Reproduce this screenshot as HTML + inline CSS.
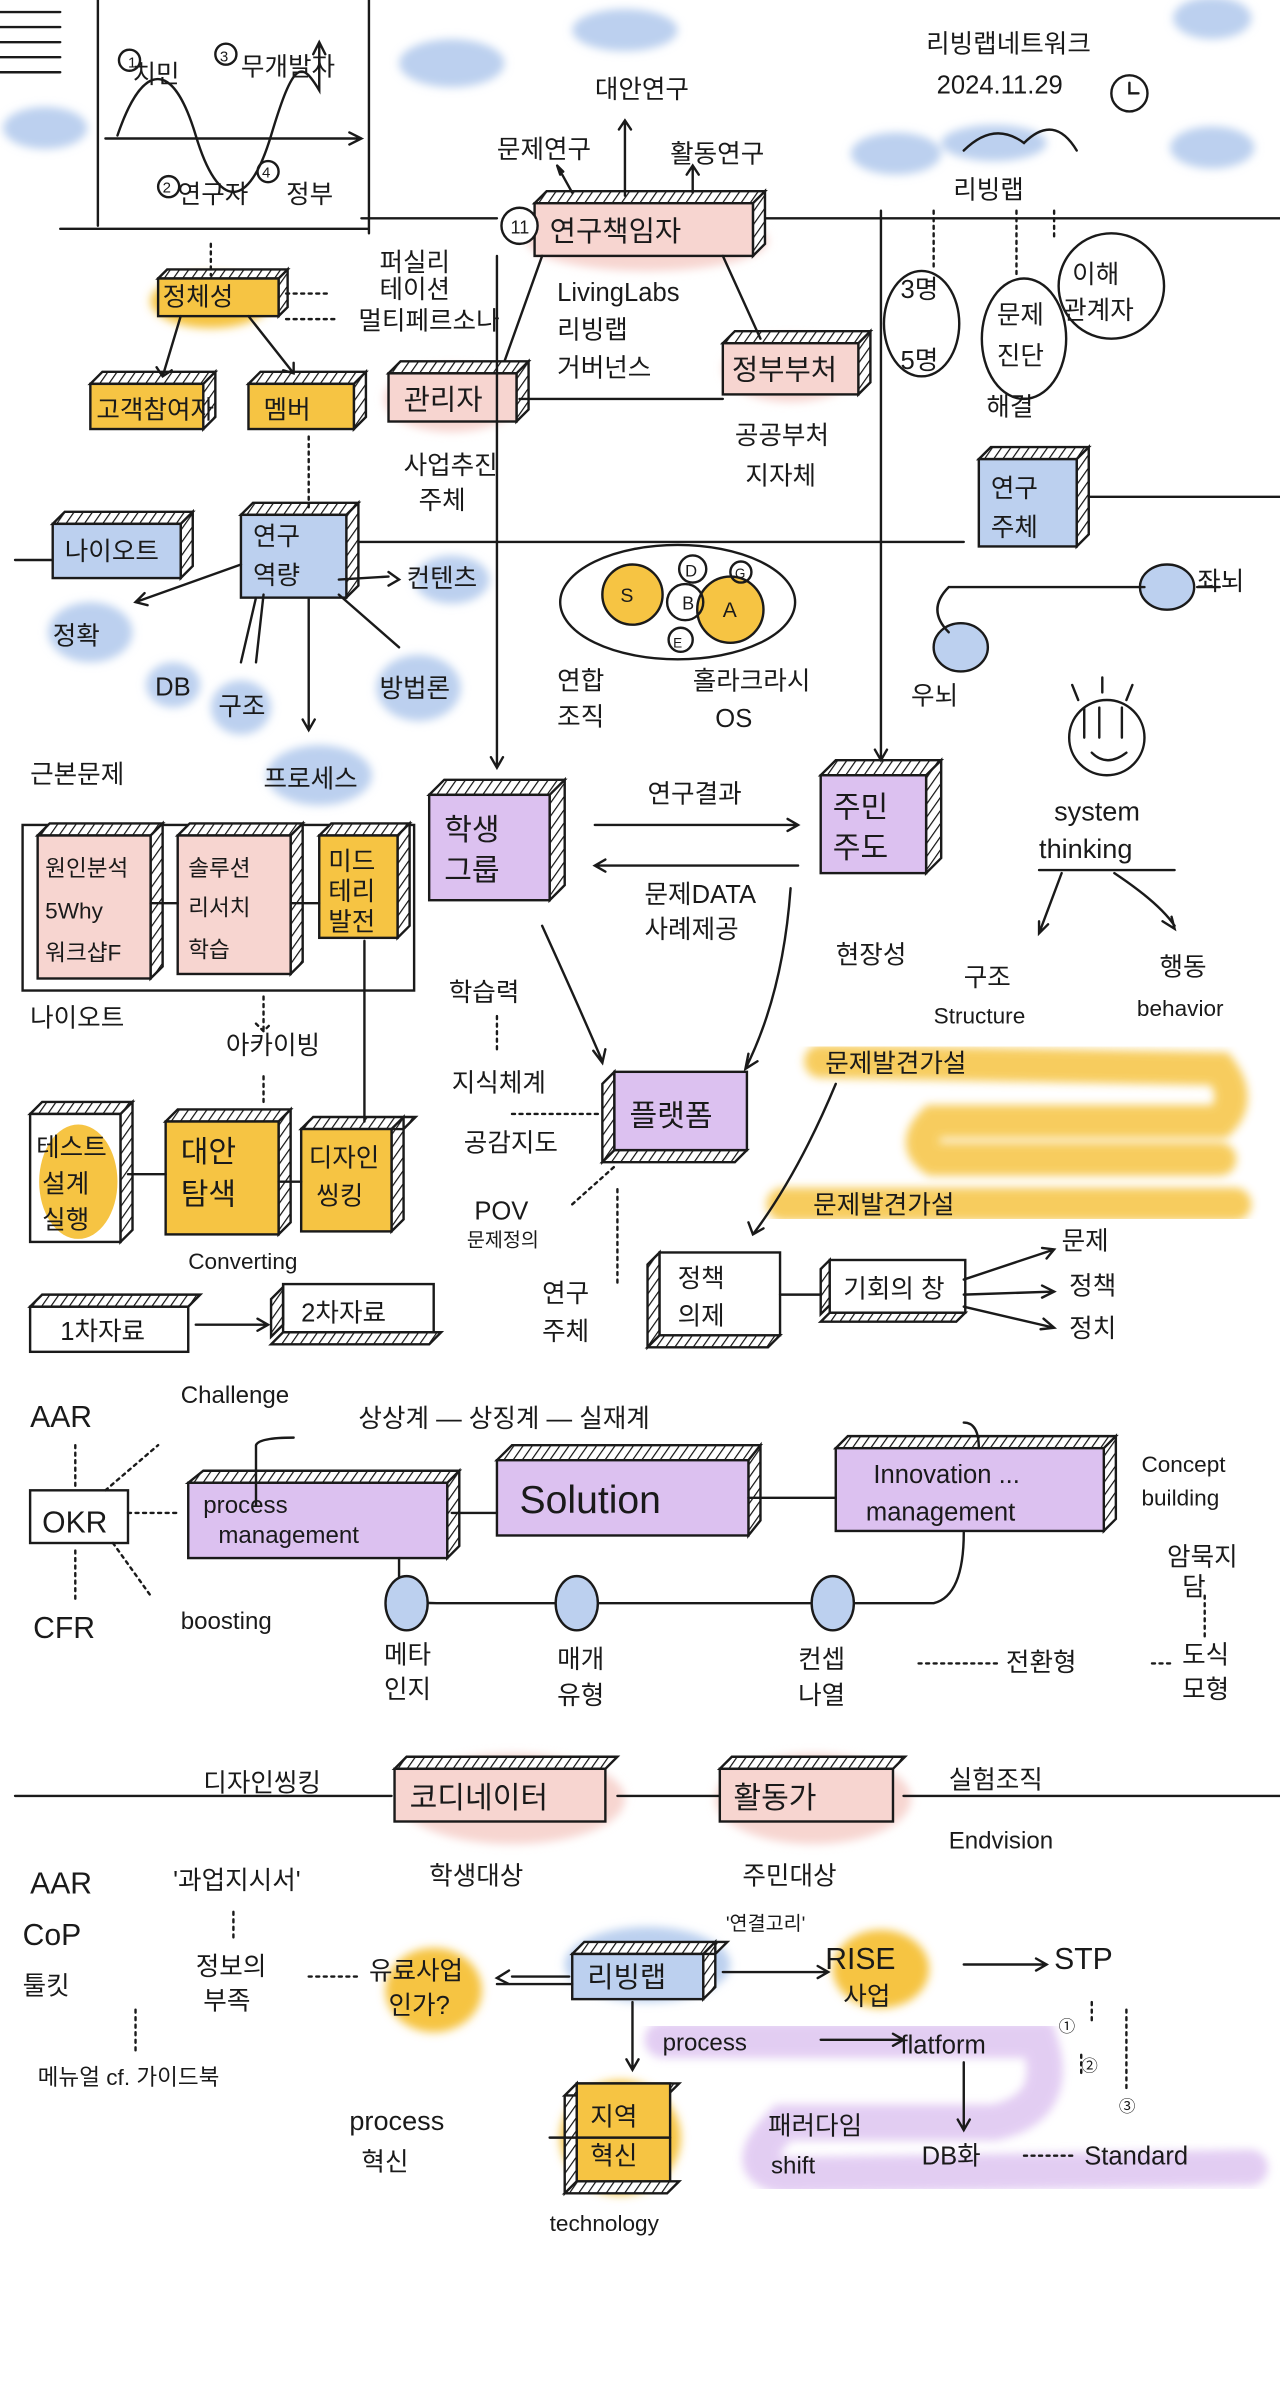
<!DOCTYPE html>
<html><head><meta charset="utf-8"><style>
html,body{margin:0;padding:0;background:#fff;width:1280px;height:2383px;overflow:hidden}
svg{display:block}
text{font-family:"Liberation Sans","Noto Sans CJK KR","NanumGothic",sans-serif;fill:#1a1a1a}
</style></head><body>
<svg width="1280" height="2383" viewBox="0 0 850 1583" preserveAspectRatio="none" xmlns="http://www.w3.org/2000/svg">
<defs>
<pattern id="h" width="5" height="5" patternUnits="userSpaceOnUse" patternTransform="rotate(35)">
<rect width="5" height="5" fill="#fff"/><line x1="0" y1="0" x2="0" y2="5" stroke="#111" stroke-width="1.6"/></pattern>
<filter id="b"><feGaussianBlur stdDeviation="3"/></filter>
</defs>
<g stroke="#1a1a1a" stroke-width="1.6" fill="none" stroke-linecap="round">
<g filter="url(#b)" stroke="none">
<ellipse cx="30" cy="85" rx="28" ry="14" fill="#bcd0ef"/>
<ellipse cx="300" cy="42" rx="35" ry="16" fill="#bcd0ef"/>
<ellipse cx="415" cy="20" rx="35" ry="14" fill="#bcd0ef"/>
<ellipse cx="595" cy="102" rx="30" ry="14" fill="#bcd0ef"/>
<ellipse cx="805" cy="12" rx="26" ry="14" fill="#bcd0ef"/>
<ellipse cx="805" cy="98" rx="28" ry="14" fill="#bcd0ef"/>
<ellipse cx="660" cy="95" rx="35" ry="12" fill="#bcd0ef"/>
<ellipse cx="140" cy="200" rx="40" ry="18" fill="#f6c443"/>
<ellipse cx="60" cy="420" rx="28" ry="20" fill="#bcd0ef"/>
<ellipse cx="115" cy="455" rx="18" ry="15" fill="#bcd0ef"/>
<ellipse cx="160" cy="470" rx="20" ry="18" fill="#bcd0ef"/>
<ellipse cx="278" cy="457" rx="28" ry="22" fill="#bcd0ef"/>
<ellipse cx="300" cy="385" rx="25" ry="16" fill="#bcd0ef"/>
<ellipse cx="212" cy="515" rx="35" ry="20" fill="#bcd0ef"/>
<ellipse cx="430" cy="160" rx="80" ry="20" fill="#f7d5d0"/>
<ellipse cx="300" cy="265" rx="45" ry="22" fill="#f7d5d0"/>
<ellipse cx="525" cy="245" rx="45" ry="22" fill="#f7d5d0"/>
<ellipse cx="340" cy="1195" rx="75" ry="30" fill="#f7d5d0"/>
<ellipse cx="540" cy="1195" rx="65" ry="30" fill="#f7d5d0"/>
<ellipse cx="430" cy="1305" rx="55" ry="25" fill="#bcd0ef"/>
<ellipse cx="288" cy="1322" rx="32" ry="28" fill="#f6c443"/>
<ellipse cx="585" cy="1308" rx="32" ry="26" fill="#f6c443"/>
<ellipse cx="412" cy="1420" rx="40" ry="38" fill="#f6c443"/>
</g>
<g stroke="#f6c443" stroke-width="22" opacity=".85" filter="url(#b)">
<path d="M545 705 L810 710 Q825 730 810 745 L620 745 Q605 760 620 770 L810 770"/>
<path d="M520 800 L820 800"/>
</g>
<path d="M440 1355 L690 1355 Q705 1400 660 1410 L520 1410 Q490 1440 520 1445 L830 1440" stroke="#dcc1f0" stroke-width="24" opacity=".8" filter="url(#b)"/>

<path d="M0 8H40M0 18H40M0 28H40M0 38H40M0 48H40M65 0V150M245 0V155M40 152H245"/>
<path d="M70 92H240M232 88l8 4-8 4"/>
<path d="M78 90 C95 40 115 40 130 90 S165 140 180 90 S200 40 212 60 L212 30M208 36l4-8 4 8"/>
<circle cx="86" cy="40" r="7"/><circle cx="150" cy="36" r="7"/><circle cx="112" cy="124" r="7"/><circle cx="178" cy="114" r="7"/>
<path d="M240 145H330M500 145H850"/>
<path d="M10 372H35M230 360H640M715 330H850"/>
<path d="M10 1193H260M410 1193H480M600 1193H850"/>
<g>
<path d="M355 135l8-8h145l-8 8zM500 135l8-8v35l-8 8z" fill="url(#h)"/><rect x="355" y="135" width="145" height="35" fill="#f7d5d0"/>
<path d="M105 185l6-6h80l-6 6zM185 185l6-6v25l-6 6z" fill="url(#h)"/><rect x="105" y="185" width="80" height="25" fill="#f6c443"/>
<path d="M60 255l8-8h75l-8 8zM135 255l8-8v30l-8 8z" fill="url(#h)"/><rect x="60" y="255" width="75" height="30" fill="#f6c443"/>
<path d="M165 255l8-8h70l-8 8zM235 255l8-8v30l-8 8z" fill="url(#h)"/><rect x="165" y="255" width="70" height="30" fill="#f6c443"/>
<path d="M258 248l8-8h85l-8 8zM343 248l8-8v32l-8 8z" fill="url(#h)"/><rect x="258" y="248" width="85" height="32" fill="#f7d5d0"/>
<path d="M480 228l8-8h90l-8 8zM570 228l8-8v34l-8 8z" fill="url(#h)"/><rect x="480" y="228" width="90" height="34" fill="#f7d5d0"/>
<path d="M650 305l8-8h65l-8 8zM715 305l8-8v58l-8 8z" fill="url(#h)"/><rect x="650" y="305" width="65" height="58" fill="#bcd0ef"/>
<path d="M35 348l8-8h85l-8 8zM120 348l8-8v36l-8 8z" fill="url(#h)"/><rect x="35" y="348" width="85" height="36" fill="#bcd0ef"/>
<path d="M160 342l8-8h70l-8 8zM230 342l8-8v55l-8 8z" fill="url(#h)"/><rect x="160" y="342" width="70" height="55" fill="#bcd0ef"/>
<rect x="15" y="548" width="260" height="110"/>
<path d="M25 555l8-8h75l-8 8zM100 555l8-8v95l-8 8z" fill="url(#h)"/><rect x="25" y="555" width="75" height="95" fill="#f7d5d0"/>
<path d="M118 555l8-8h75l-8 8zM193 555l8-8v92l-8 8z" fill="url(#h)"/><rect x="118" y="555" width="75" height="92" fill="#f7d5d0"/>
<path d="M212 555l8-8h52l-8 8zM264 555l8-8v68l-8 8z" fill="url(#h)"/><rect x="212" y="555" width="52" height="68" fill="#f6c443"/>
<path d="M285 528l10-10h80l-10 10zM365 528l10-10v70l-10 10z" fill="url(#h)"/><rect x="285" y="528" width="80" height="70" fill="#dcc1f0"/>
<path d="M545 515l10-10h70l-10 10zM615 515l10-10v65l-10 10z" fill="url(#h)"/><rect x="545" y="515" width="70" height="65" fill="#dcc1f0"/>
<path d="M400 720l8-8v52l-8 8zM400 772l8-8h88l-8 8z" fill="url(#h)"/><rect x="408" y="712" width="88" height="52" fill="#dcc1f0"/>
<path d="M20 740l8-8h60l-8 8zM80 740l8-8v85l-8 8z" fill="url(#h)"/><rect x="20" y="740" width="60" height="85" fill="#fff"/><ellipse cx="52" cy="785" rx="26" ry="38" fill="#f6c443" stroke="none"/>
<path d="M110 745l8-8h75l-8 8zM185 745l8-8v75l-8 8z" fill="url(#h)"/><rect x="110" y="745" width="75" height="75" fill="#f6c443"/>
<path d="M200 750l8-8h68l-8 8zM260 750l8-8v68l-8 8z" fill="url(#h)"/><rect x="200" y="750" width="60" height="68" fill="#f6c443"/>
<path d="M20 868l8-8h105l-8 8z" fill="url(#h)"/><rect x="20" y="868" width="105" height="30"/>
<path d="M180 888l8-8v-25l-8 8zM180 893l8-8h105l-8 8z" fill="url(#h)"/><rect x="188" y="853" width="100" height="32"/>
<path d="M430 840l8-8v55l-8 8zM430 895l8-8h80l-8 8z" fill="url(#h)"/><rect x="438" y="832" width="80" height="55" fill="#fff"/>
<path d="M545 873l6-6v-30l-6 6zM545 878l6-6h90l-6 6z" fill="url(#h)"/><rect x="551" y="837" width="90" height="35" fill="#fff"/>
<rect x="20" y="990" width="65" height="35"/>
<path d="M125 985l10-8h170l-8 8zM297 985l8-8v50l-8 8z" fill="url(#h)"/><rect x="125" y="985" width="172" height="50" fill="#dcc1f0"/>
<path d="M330 970l10-10h165l-8 10zM497 970l8-10v50l-8 10z" fill="url(#h)"/><rect x="330" y="970" width="167" height="50" fill="#dcc1f0"/>
<path d="M555 962l8-8h178l-8 8zM733 962l8-8v55l-8 8z" fill="url(#h)"/><rect x="555" y="962" width="178" height="55" fill="#dcc1f0"/>
<path d="M262 1175l8-8h140l-8 8z" fill="url(#h)"/><rect x="262" y="1175" width="140" height="35" fill="#f7d5d0"/>
<path d="M478 1175l8-8h115l-8 8z" fill="url(#h)"/><rect x="478" y="1175" width="115" height="35" fill="#f7d5d0"/>
<path d="M380 1298l8-8h95l-8 8zM467 1298l8-8v30l-8 8z" fill="url(#h)"/><rect x="380" y="1298" width="87" height="30" fill="#bcd0ef"/>
<path d="M375 1392l8-8v65l-8 8zM375 1457l8-8h68l-8 8zM375 1392l8-8h68l-8 8z" fill="url(#h)"/><rect x="383" y="1384" width="62" height="65" fill="#f6c443"/>
</g>
<path d="M415 130V80M411 86l4-6 4 6M380 128l-10-18M372 116l-2-6 4 4M460 128V110M456 116l4-6 4 6"/>
<circle cx="345" cy="150" r="12" fill="#fff"/>
<path d="M360 170 L335 240M480 170 L505 225M345 265H480"/>
<path d="M140 162V183M190 195H220M190 212H225M205 290V340" stroke-dasharray="2 3"/>
<path d="M120 210L108 250M104 244l4 6 6-4M165 210L195 248M188 246l7 2 0-7"/>
<path d="M160 375L90 400M96 394l-6 6 8 2M170 397L160 440M175 395L170 440M205 398V485M201 478l4 7 4-7M225 395L265 430M258 380l7 5-7 4M225 385L258 383"/>
<path d="M330 170V510M326 503l4 7 4-7M585 140V505M581 498l4 7 4-7"/>
<path d="M395 548H530M523 544l7 4-7 4M530 575H395M402 571l-7 4 7 4"/>
<path d="M360 615 Q385 670 400 705M394 698l6 8 2-9M525 590 Q520 660 495 710M497 700l-2 10 8-5"/>
<path d="M555 720 Q530 780 500 820M497 812l3 8 7-4"/>
<path d="M518 860H545M640 850L700 830M692 829l8 1-5 6M640 860L700 858M692 854l8 4-8 4M640 868L700 882M693 876l7 6-9 1"/>
<path d="M130 880H178M171 876l7 4-7 4"/>
<path d="M100 600H118M193 600H212M85 780H110M185 785H200M242 625V745"/>
<path d="M175 662V685M170 680l5 5 5-5M175 715V735" stroke-dasharray="2 3"/>
<path d="M330 675V700M340 740H400M380 800L408 775M410 790V855" stroke-dasharray="2 3"/>
<path d="M170 1000V960 Q172 955 195 955M265 1035V1055 Q270 1065 290 1065H620 Q640 1060 640 1018M300 1005H330M497 995H555M640 945 Q650 945 650 962"/>
<path d="M85 1005H120M50 960V990M50 1030V1065M70 990L105 960M75 1025L100 1060M800 1060V1090M610 1105H665M765 1105H780" stroke-dasharray="2 3"/>
<g fill="#bcd0ef"><ellipse cx="270" cy="1065" rx="14" ry="18"/><ellipse cx="383" cy="1065" rx="14" ry="18"/><ellipse cx="553" cy="1065" rx="14" ry="18"/></g>
<path d="M340 1313H378M330 1318H380M338 1309l-8 5 8 4M480 1310H550M543 1306l7 4-7 4M420 1330V1375M416 1368l4 7 4-7M445 1420H365M640 1305H695M688 1301l7 4-7 4M640 1370V1415M636 1408l4 7 4-7M545 1355H600M593 1351l7 4-7 4"/>
<path d="M205 1313H240M725 1330V1345M718 1365V1380M748 1335V1390M680 1432H715M155 1270V1290M90 1335V1365" stroke-dasharray="2 3"/>
<ellipse cx="450" cy="400" rx="78" ry="38"/>
<circle cx="420" cy="395" r="20" fill="#f6c443"/><circle cx="485" cy="405" r="22" fill="#f6c443"/>
<circle cx="455" cy="400" r="12"/><circle cx="460" cy="378" r="9"/><circle cx="492" cy="380" r="7"/><circle cx="452" cy="425" r="8"/>
<ellipse cx="775" cy="390" rx="18" ry="15" fill="#bcd0ef"/><ellipse cx="638" cy="430" rx="18" ry="16" fill="#bcd0ef"/>
<path d="M760 390H630 Q615 405 630 420M795 390 H810"/>
<circle cx="735" cy="490" r="25"/><path d="M720 470V490M730 470V490M745 470V490M725 500 Q735 510 748 500M712 455l4 10M732 450v10M752 455l-4 10"/>
<path d="M690 578H780M705 580L690 620M690 612l0 8 6-6M740 580Q770 600 780 615M772 612l8 5-2-8"/>
<circle cx="750" cy="62" r="12"/><path d="M750 55v7h6M640 100 Q660 80 680 95 Q700 75 715 100"/>
<ellipse cx="612" cy="215" rx="25" ry="35"/><ellipse cx="680" cy="225" rx="28" ry="40"/><ellipse cx="738" cy="190" rx="35" ry="35"/>
<path d="M620 140V180M675 140V185M700 140V160" stroke-dasharray="2 3"/>
</g>

<g font-size="17">
<text x="88" y="55">치민</text><text x="160" y="50">무개발자</text><text x="118" y="135">연구자</text><text x="190" y="135">정부</text>
<text x="85" y="45" font-size="10">1</text><text x="146" y="41" font-size="10">3</text><text x="108" y="128" font-size="10">2</text><text x="174" y="118" font-size="10">4</text>
<text x="395" y="65">대안연구</text><text x="330" y="105">문제연구</text><text x="445" y="108">활동연구</text>
<text x="365" y="160" font-size="19">연구책임자</text><text x="339" y="155" font-size="12">11</text>
<text x="370" y="200">LivingLabs</text><text x="370" y="225">리빙랩</text><text x="370" y="250">거버넌스</text>
<text x="268" y="272" font-size="19">관리자</text><text x="268" y="315">사업추진</text><text x="278" y="338">주체</text>
<text x="486" y="252" font-size="19">정부부처</text><text x="488" y="295">공공부처</text><text x="495" y="322">지자체</text>
<text x="615" y="35">리빙랩네트워크</text><text x="622" y="62">2024.11.29</text>
<text x="633" y="132">리빙랩</text>
<text x="598" y="198">3명</text><text x="598" y="245">5명</text><text x="662" y="215">문제</text><text x="662" y="242">진단</text><text x="712" y="188">이해</text><text x="706" y="212">관계자</text><text x="655" y="276">해결</text>
<text x="108" y="203">정체성</text><text x="252" y="180">퍼실리</text><text x="252" y="198">테이션</text><text x="238" y="219">멀티페르소나</text>
<text x="64" y="278">고객참여자</text><text x="175" y="278">멤버</text>
<text x="43" y="372">나이오트</text><text x="168" y="362">연구</text><text x="168" y="388">역량</text>
<text x="658" y="330">연구</text><text x="658" y="356">주체</text>
<text x="270" y="390">컨텐츠</text><text x="35" y="428">정확</text><text x="103" y="462">DB</text><text x="145" y="475">구조</text><text x="252" y="463">방법론</text><text x="175" y="523">프로세스</text>
<text x="412" y="400" font-size="13">S</text><text x="453" y="405" font-size="12">B</text><text x="480" y="410" font-size="14">A</text><text x="455" y="383" font-size="11">D</text><text x="488" y="384" font-size="9">G</text><text x="447" y="430" font-size="9">E</text>
<text x="370" y="458">연합</text><text x="370" y="482">조직</text><text x="460" y="458">홀라크라시</text><text x="475" y="483">OS</text>
<text x="795" y="392">좌뇌</text><text x="605" y="468">우뇌</text>
<text x="700" y="545" font-size="18">system</text><text x="690" y="570" font-size="18">thinking</text>
<text x="640" y="655">구조</text><text x="620" y="680" font-size="15">Structure</text><text x="770" y="648">행동</text><text x="755" y="675" font-size="15">behavior</text>
<text x="20" y="520">근본문제</text><text x="20" y="682">나이오트</text>
<text x="30" y="582" font-size="15">원인분석</text><text x="30" y="610" font-size="15">5Why</text><text x="30" y="638" font-size="15">워크샵F</text>
<text x="125" y="582" font-size="15">솔루션</text><text x="125" y="608" font-size="15">리서치</text><text x="125" y="636" font-size="15">학습</text>
<text x="218" y="578">미드</text><text x="218" y="598">테리</text><text x="218" y="618">발전</text>
<text x="295" y="558" font-size="20">학생</text><text x="295" y="585" font-size="20">그룹</text>
<text x="553" y="543" font-size="20">주민</text><text x="553" y="570" font-size="20">주도</text>
<text x="430" y="533">연구결과</text><text x="428" y="600">문제DATA</text><text x="428" y="623">사례제공</text>
<text x="555" y="640">현장성</text><text x="298" y="665">학습력</text><text x="300" y="725">지식체계</text><text x="308" y="765">공감지도</text>
<text x="418" y="748" font-size="20">플랫폼</text><text x="315" y="810">POV</text><text x="310" y="828" font-size="13">문제정의</text><text x="360" y="865">연구</text><text x="360" y="890">주체</text>
<text x="150" y="700">아카이빙</text>
<text x="24" y="768">테스트</text><text x="28" y="792">설계</text><text x="28" y="816">실행</text>
<text x="120" y="772" font-size="20">대안</text><text x="120" y="800" font-size="20">탐색</text>
<text x="205" y="775">디자인</text><text x="210" y="800">씽킹</text>
<text x="125" y="843" font-size="15">Converting</text>
<text x="40" y="890">1차자료</text><text x="200" y="878">2차자료</text>
<text x="548" y="712">문제발견가설</text><text x="540" y="806">문제발견가설</text>
<text x="450" y="855">정책</text><text x="450" y="880">의제</text><text x="560" y="862">기회의 창</text>
<text x="705" y="830">문제</text><text x="710" y="860">정책</text><text x="710" y="888">정치</text>
<text x="20" y="948" font-size="20">AAR</text><text x="28" y="1018" font-size="20">OKR</text><text x="22" y="1088" font-size="20">CFR</text>
<text x="120" y="932" font-size="16">Challenge</text><text x="120" y="1082" font-size="16">boosting</text>
<text x="238" y="948">상상계 — 상징계 — 실재계</text>
<text x="135" y="1005" font-size="16">process</text><text x="145" y="1025" font-size="16">management</text>
<text x="345" y="1005" font-size="26">Solution</text>
<text x="580" y="985" font-size="17">Innovation ...</text><text x="575" y="1010" font-size="17">management</text>
<text x="758" y="978" font-size="15">Concept</text><text x="758" y="1000" font-size="15">building</text>
<text x="775" y="1040">암묵지</text><text x="785" y="1060">담</text>
<text x="255" y="1105">메타</text><text x="255" y="1128">인지</text><text x="370" y="1108">매개</text><text x="370" y="1132">유형</text>
<text x="530" y="1108">컨셉</text><text x="530" y="1132">나열</text><text x="668" y="1110">전환형</text><text x="785" y="1105">도식</text><text x="785" y="1128">모형</text>
<text x="135" y="1190">디자인씽킹</text><text x="272" y="1201" font-size="20">코디네이터</text><text x="487" y="1201" font-size="20">활동가</text>
<text x="630" y="1188">실험조직</text><text x="630" y="1228" font-size="16">Endvision</text>
<text x="285" y="1252">학생대상</text><text x="493" y="1252">주민대상</text>
<text x="20" y="1258" font-size="20">AAR</text><text x="15" y="1292" font-size="20">CoP</text><text x="15" y="1325">툴킷</text><text x="25" y="1385" font-size="15">메뉴얼 cf. 가이드북</text>
<text x="115" y="1255">'과업지시서'</text><text x="130" y="1312">정보의</text><text x="135" y="1335">부족</text>
<text x="245" y="1315">유료사업</text><text x="258" y="1338">인가?</text>
<text x="390" y="1320" font-size="19">리빙랩</text><text x="482" y="1282" font-size="13">'연결고리'</text>
<text x="548" y="1308" font-size="20">RISE</text><text x="560" y="1332">사업</text>
<text x="700" y="1308" font-size="20">STP</text><text x="703" y="1350" font-size="11">①</text><text x="718" y="1376" font-size="11">②</text><text x="743" y="1403" font-size="11">③</text>
<text x="440" y="1362" font-size="16">process</text><text x="598" y="1364" font-size="17">flatform</text>
<text x="232" y="1415" font-size="18">process</text><text x="240" y="1442">혁신</text>
<text x="392" y="1412">지역</text><text x="392" y="1438">혁신</text><text x="365" y="1482" font-size="15">technology</text>
<text x="510" y="1418">패러다임</text><text x="512" y="1444" font-size="16">shift</text><text x="612" y="1438">DB화</text><text x="720" y="1438" font-size="17">Standard</text>
</g>
</svg>
</body></html>
